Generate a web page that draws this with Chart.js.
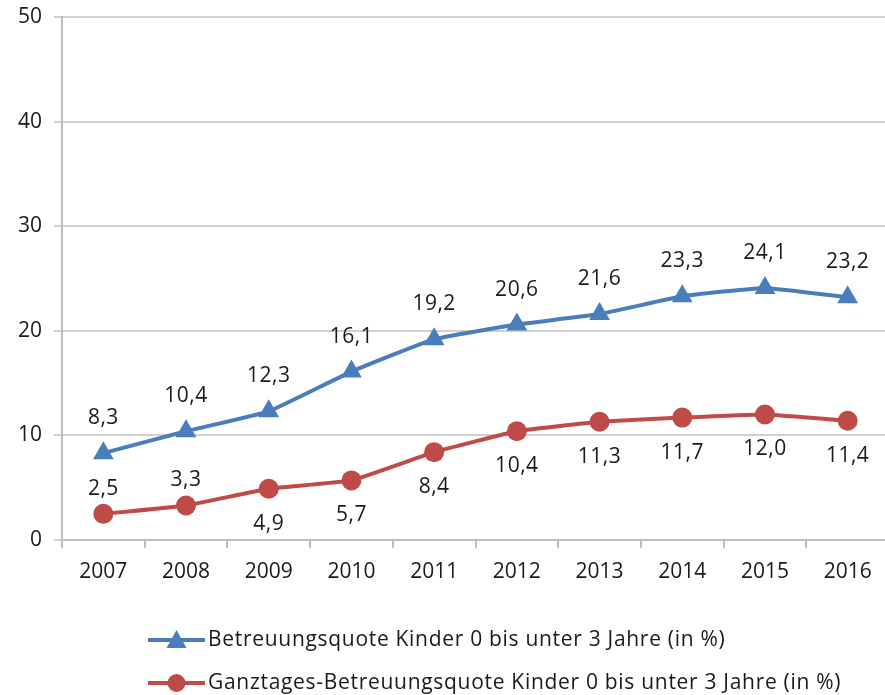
<!DOCTYPE html>
<html>
<head>
<meta charset="utf-8">
<script src="https://cdn.jsdelivr.net/npm/chart.js@4"></script>
<style>
  html, body { margin: 0; padding: 0; background: #fff; overflow: hidden; }
  #wrap { width: 885px; height: 695px; overflow: hidden; }
</style>
</head>
<body>
<div id="wrap"><canvas id="chart" width="901" height="695"></canvas></div>
<script>
// ===== Data =====
const years = ["2007", "2008", "2009", "2010", "2011", "2012", "2013", "2014", "2015", "2016"];
const betreuung = [8.3, 10.4, 12.3, 16.1, 19.2, 20.6, 21.6, 23.3, 24.1, 23.2];
const ganztags = [2.5, 3.3, 4.9, 5.7, 8.4, 10.4, 11.3, 11.7, 12.0, 11.4];
const seriesNames = [
  "Betreuungsquote Kinder 0 bis unter 3 Jahre (in %)",
  "Ganztages-Betreuungsquote Kinder 0 bis unter 3 Jahre (in %)"
];

const FONT = "'Open Sans', sans-serif";
const TEXT = "#1a1a1a";
const BLUE = "#4a7ebb";
const RED = "#be4b48";

const fmt = v => v.toFixed(1).replace(".", ",");

// value labels drawn next to each point
const pointLabels = {
  id: "pointLabels",
  afterDatasetsDraw(chart) {
    const ctx = chart.ctx;
    ctx.save();
    ctx.font = "21px " + FONT;
    ctx.letterSpacing = "0.5px";
    ctx.fillStyle = TEXT;
    ctx.textAlign = "center";
    ctx.textBaseline = "middle";
    chart.data.datasets.forEach((ds, i) => {
      const meta = chart.getDatasetMeta(i);
      meta.data.forEach((pt, j) => {
        let dy;
        if (i === 0) dy = -35;
        else dy = j < 2 ? -25 : 35;
        ctx.fillText(fmt(ds.data[j]), pt.x, pt.y + dy);
      });
    });
    ctx.restore();
  }
};

// legend with line + marker, stacked rows
const lineLegend = {
  id: "lineLegend",
  afterDraw(chart) {
    const ctx = chart.ctx;
    ctx.save();
    ctx.font = "21px " + FONT;
    ctx.letterSpacing = "0.7px";
    ctx.textBaseline = "middle";
    chart.data.datasets.forEach((ds, i) => {
      const y = 640 + i * 43;
      const x0 = 148, x1 = 205;
      ctx.strokeStyle = ds.borderColor;
      ctx.lineWidth = 4;
      ctx.beginPath();
      ctx.moveTo(x0, y);
      ctx.lineTo(x1, y);
      ctx.stroke();
      ctx.fillStyle = ds.borderColor;
      const cx = (x0 + x1) / 2;
      ctx.beginPath();
      if (ds.pointStyle === "triangle") {
        ctx.moveTo(cx, y - 10);
        ctx.lineTo(cx + 10, y + 8);
        ctx.lineTo(cx - 10, y + 8);
        ctx.closePath();
      } else {
        ctx.arc(cx, y, 9, 0, Math.PI * 2);
      }
      ctx.fill();
      ctx.fillStyle = TEXT;
      ctx.textAlign = "left";
      ctx.fillText(ds.label, x1 + 3, y);
    });
    ctx.restore();
  }
};

new Chart(document.getElementById("chart"), {
  type: "line",
  data: {
    labels: years,
    datasets: [{
      label: seriesNames[0],
      data: betreuung,
      borderColor: BLUE,
      backgroundColor: BLUE,
      borderWidth: 4,
      pointStyle: "triangle",
      pointRadius: 12,
      pointBorderWidth: 0,
      tension: 0.1
    }, {
      label: seriesNames[1],
      data: ganztags,
      borderColor: RED,
      backgroundColor: RED,
      borderWidth: 4,
      pointStyle: "circle",
      pointRadius: 10,
      pointBorderWidth: 0,
      tension: 0.1
    }]
  },
  options: {
    responsive: false,
    animation: false,
    layout: { padding: { top: 17, right: 0, bottom: 0, left: 0 } },
    plugins: {
      legend: { display: false },
      tooltip: { enabled: false }
    },
    scales: {
      x: {
        offset: true,
        grid: {
          offset: true,
          drawOnChartArea: false,
          drawTicks: true,
          tickLength: 8,
          color: "#bfbfbf",
          lineWidth: 2
        },
        border: { color: "#bfbfbf", width: 2 },
        ticks: { color: TEXT, font: { family: FONT, size: 21 }, padding: 11, maxRotation: 0 },
        afterFit(scale) {
          scale.height = 155;
          scale.paddingLeft = 0;
          scale.paddingRight = 0;
        }
      },
      y: {
        min: 0,
        max: 50,
        ticks: { stepSize: 10, color: TEXT, font: { family: FONT, size: 21 }, padding: 12 },
        grid: { color: "#d0d0d0", lineWidth: 2, tickLength: 8 },
        border: { color: "#bfbfbf", width: 2 },
        afterFit(scale) {
          scale.width = 62;
          scale.paddingTop = 0;
          scale.paddingBottom = 0;
        }
      }
    }
  },
  plugins: [pointLabels, lineLegend]
});
</script>
</body>
</html>
